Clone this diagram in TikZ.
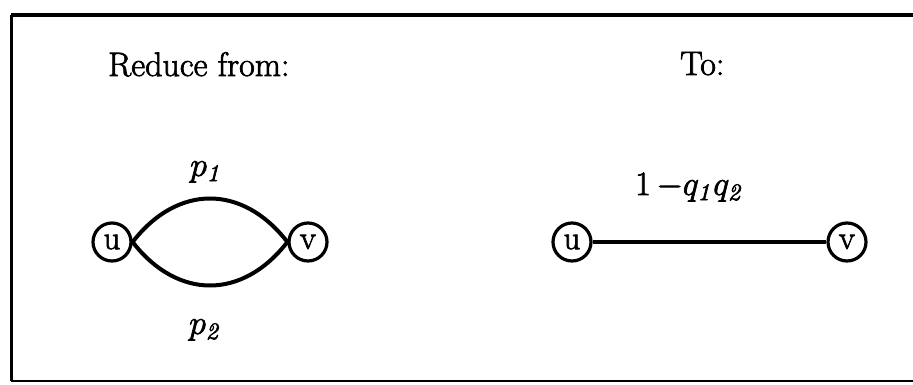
\RequirePackage{fix-cm}
\documentclass[tikz,border=0pt]{standalone}
\usepackage{amsmath}
% slightly heavier glyphs: fill and stroke the text outlines
\newcommand{\heavytext}[1]{\special{pdf:literal direct 2 Tr 0.7 w}#1\special{pdf:literal direct 0 Tr}}
\begin{document}
\begin{tikzpicture}[x=1pt,y=-1pt,
  vertex/.style={circle,draw,line width=3.2pt,minimum size=38pt,inner sep=0pt,
                 font=\fontsize{33}{33}\selectfont},
  edge/.style={line width=4pt},
  title/.style={anchor=base west,inner sep=0pt,font=\fontsize{34}{40}\selectfont},
  weight/.style={anchor=base west,inner sep=0pt,font=\fontsize{34}{40}\selectfont}]
\useasboundingbox (0,0) rectangle (913,385);

% open frame: top, left and bottom rules
\coordinate (tl) at (11,15);
\coordinate (tr) at (913,15);
\coordinate (bl) at (11,381);
\coordinate (br) at (913,381);
\draw[line width=4pt] (tr) -- (tl);
\draw[line width=3pt] (tl) -- (bl);
\draw[line width=2.5pt] (bl) -- (br);

% headings
\node[title] (from) at (108,76) {\heavytext{Reduce from:}};
\node[title] (to) at (680,75) {\heavytext{To:}};

% parallel pair of edges
\node[vertex] (u1) at (112,242) {\heavytext{u}};
\node[vertex] (v1) at (308,242) {\heavytext{v}};
\draw[edge] (u1.east) .. controls +(45,-58) and +(-45,-58) .. (v1.west);
\draw[edge] (u1.east) .. controls +(45,58) and +(-45,58) .. (v1.west);
\node[weight] (p1) at (190,176) {\heavytext{$p_{\mathit 1}$}};
\node[weight] (p2) at (189,334) {\heavytext{$p_{\mathit 2}$}};

% single equivalent edge
\node[vertex] (u2) at (572,242) {\heavytext{u}};
\node[vertex] (v2) at (847,242) {\heavytext{v}};
\draw[edge] (u2) -- (v2);
\node[weight] (q) at (635,195) {\heavytext{$1\,{-}q_{\mathit 1}q_{\mathit 2}$}};
\end{tikzpicture}
\end{document}
